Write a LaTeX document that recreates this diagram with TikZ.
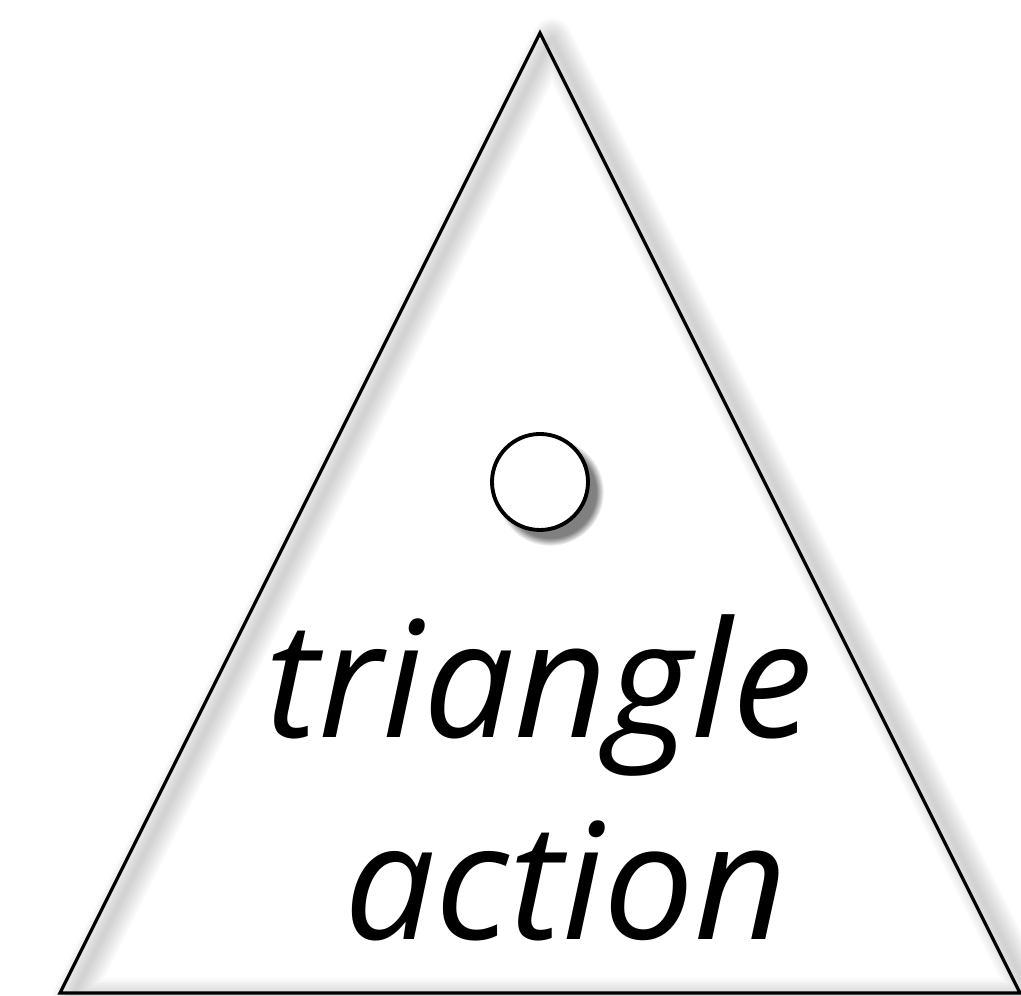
\documentclass[tikz,border=0pt]{standalone}
\usepackage{fontspec}
\setmainfont{Open Sans}
\usetikzlibrary{shadows}

\tikzset{
  outline/.style={line width=0.9pt, line join=miter},
  blurline/.style={black, opacity=0.022, line join=round},
  bigword/.style={font=\itshape\fontsize{46}{52}\selectfont, anchor=base, inner sep=0pt},
  knob/.style={circle, draw, line width=1.1pt, fill=white, inner sep=0pt,
               minimum size=0.96cm,
               circular drop shadow={shadow xshift=0.09, shadow yshift=-0.09,
                                     shadow scale=1.12}}
}

\begin{document}
\begin{tikzpicture}
  %% triangle with a soft shadow, a knob and two words
  \useasboundingbox (0,0) rectangle (10.21,9.96);
  \coordinate (left)  at (0.60,0.03);
  \coordinate (right) at (10.20,0.03);
  \coordinate (top)   at (5.40,9.63);
  \foreach \w in {1,...,8} {
    \draw[blurline, line width=\w*1.4pt]
      (0.72,-0.02) -- (10.32,-0.02) -- (5.52,9.58) -- cycle;
  }
  \draw[outline] (left) -- (right) -- (top) -- cycle;
  \node[knob] (knob) at (5.40,5.14) {};
  \node[bigword] (wordone) at (5.39,2.58) {triangle};
  \node[bigword] (wordtwo) at (5.66,0.56) {action};
\end{tikzpicture}
\end{document}
